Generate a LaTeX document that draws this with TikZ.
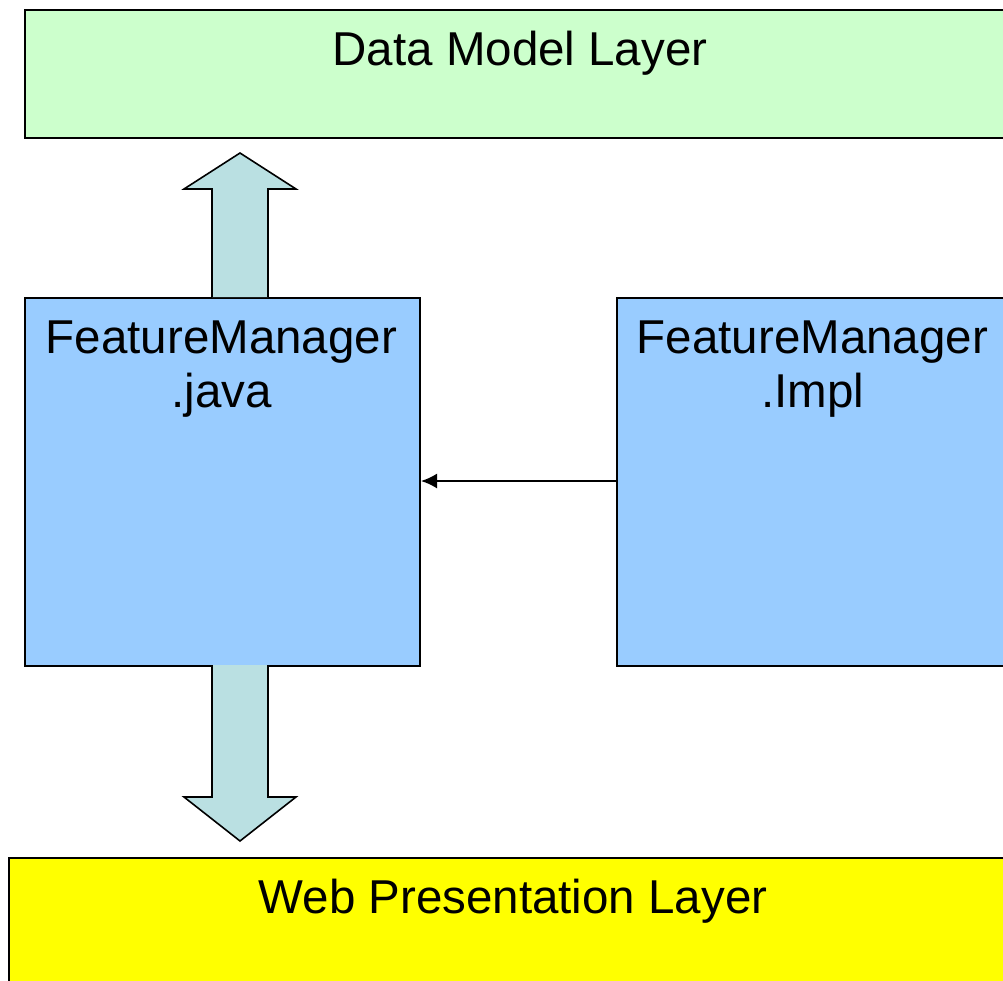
\documentclass[tikz,border=0pt]{standalone}
\usepackage{fontspec}
\setmainfont{Liberation Sans}
\usetikzlibrary{arrows.meta}
\definecolor{dmgreen}{HTML}{CCFFCC}
\definecolor{fmblue}{HTML}{99CCFF}
\definecolor{arrowfill}{HTML}{BAE0E2}
\definecolor{webyellow}{HTML}{FFFF00}
\tikzset{
  layerbox/.style={draw=black, line width=2pt, inner sep=0pt, anchor=north west},
  lbl/.style={inner sep=0pt, anchor=base, font=\fontsize{47.5}{54}\selectfont, align=center},
  blockarrow/.style={draw=black, line width=1.6pt, fill=arrowfill, line join=miter},
  connector/.style={draw=black, line width=1.8pt, -{Latex[length=16pt,width=15pt]}}
}
\begin{document}
\begin{tikzpicture}[x=1pt,y=-1pt]
\useasboundingbox (0,0) rectangle (1003,980);
\clip (0,0) rectangle (1003,980);
\fill[white] (0,0) rectangle (1003,980);
% boxes
\node[layerbox, fill=dmgreen, minimum width=992pt, minimum height=128pt] (dm) at (24,9) {};
\node[layerbox, fill=fmblue, minimum width=395pt, minimum height=368pt] (fmj) at (24,297) {};
\node[layerbox, fill=fmblue, minimum width=395pt, minimum height=368pt] (fmi) at (616,297) {};
\node[layerbox, fill=webyellow, minimum width=1010pt, minimum height=140pt] (web) at (8,857) {};
% labels
\node[lbl] (dmt) at (520,65) {Data Model Layer};
\node[lbl] (fmjt) at (221.5,353) {FeatureManager};
\node[lbl] (fmjt2) at (221.5,407) {.java};
\node[lbl] (fmit) at (812.5,353) {FeatureManager};
\node[lbl] (fmit2) at (812.5,407) {.Impl};
\node[lbl] (webt) at (513,913) {Web Presentation Layer};
% block arrows
\draw[blockarrow] (212,297) -- (212,189) -- (184,189) -- (240,153) -- (296,189) -- (268,189) -- (268,297);
\draw[blockarrow] (212,665) -- (212,797) -- (184,797) -- (240,841) -- (296,797) -- (268,797) -- (268,665);
% connector
\coordinate (c1) at (fmi.west |- 0,481);
\coordinate (c2) at (fmj.east |- 0,481);
\draw[connector] (c1) -- (c2);
\end{tikzpicture}
\end{document}
